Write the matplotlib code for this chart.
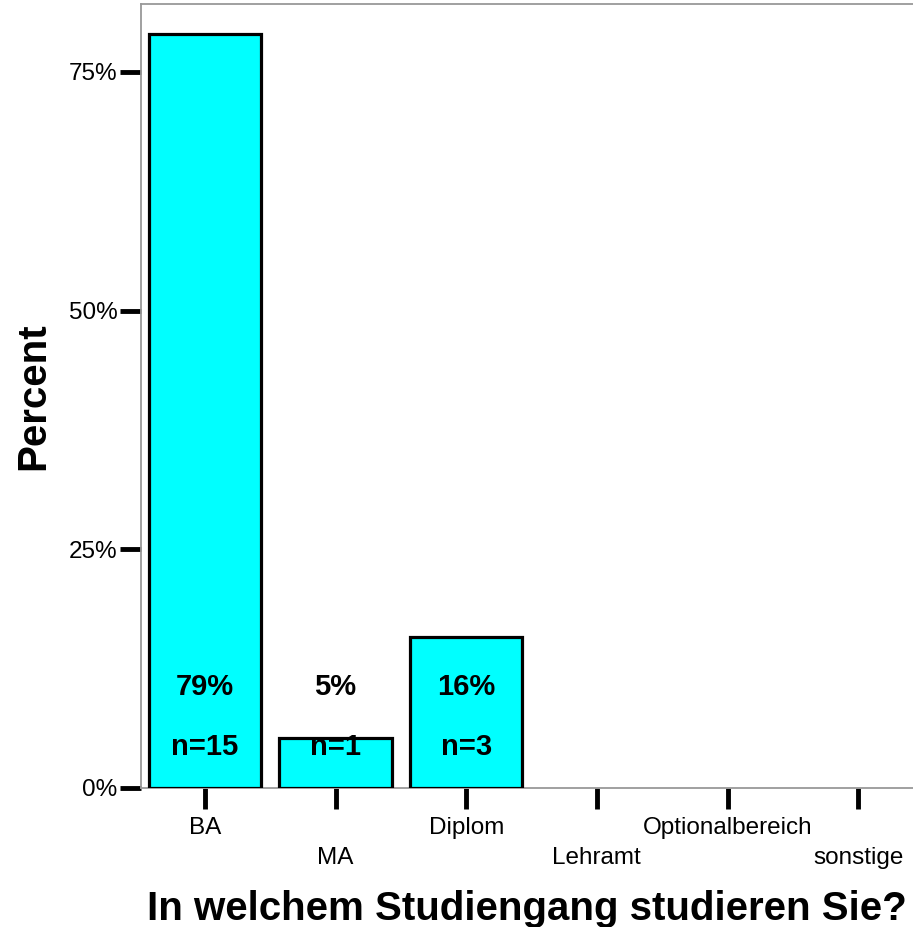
import matplotlib
matplotlib.use("Agg")
import matplotlib.pyplot as plt

categories = ["BA", "MA", "Diplom", "Lehramt", "Optionalbereich", "sonstige"]
percent = [78.95, 5.26, 15.79, 0, 0, 0]
counts = [15, 1, 3, 0, 0, 0]
pct_labels = ["79%", "5%", "16%", "", "", ""]
yticks = [0, 25, 50, 75]
ytick_labels = ["0%", "25%", "50%", "75%"]

plt.rcParams['font.family'] = ['Liberation Sans', 'DejaVu Sans']

fig = plt.figure(figsize=(9.13, 9.27), dpi=100)
ax = fig.add_axes([0.1544, 0.15, 0.8456, 0.8457])

x = list(range(len(categories)))
for i, p in enumerate(percent):
    if p > 0:
        ax.bar(x[i], p, width=0.86, color="#00FFFF", edgecolor="black", linewidth=2.3, zorder=3)

for i, (p, n) in enumerate(zip(percent, counts)):
    if n > 0:
        ax.text(i, 10.6, pct_labels[i], ha="center", va="center", fontsize=21, fontweight="bold", zorder=4)
        ax.text(i, 4.3, f"n={n}", ha="center", va="center", fontsize=21, fontweight="bold", zorder=4)

ax.set_xlim(-0.49, 5.42)
ax.set_ylim(0, 82.1)
ax.set_yticks(yticks)
ax.set_yticklabels(ytick_labels, fontsize=17.5)
ax.set_xticks(x)
ax.set_xticklabels([c if i % 2 == 0 else "\n" + c for i, c in enumerate(categories)], fontsize=17.5, linespacing=1.45)

ax.tick_params(axis="both", direction="out", length=15, width=3.5, color="black")
ax.tick_params(axis="x", pad=6)
ax.tick_params(axis="y", pad=2)

for s in ["left", "top", "bottom"]:
    ax.spines[s].set_color("#999999")
    ax.spines[s].set_linewidth(1.3)
ax.spines["right"].set_visible(False)

ax.set_ylabel("Percent", fontsize=29, fontweight="bold", labelpad=12)
ax.set_xlabel("In welchem Studiengang studieren Sie?", fontsize=29, fontweight="bold", labelpad=15)

fig.savefig("out.png", dpi=100)
